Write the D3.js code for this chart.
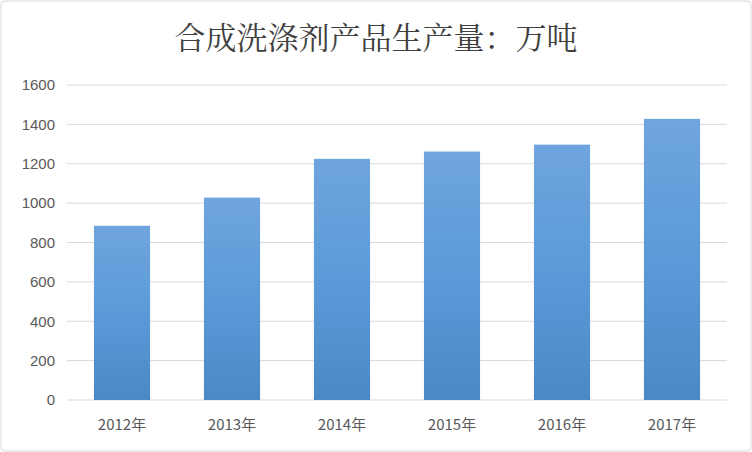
<!DOCTYPE html>
<html><head><meta charset="utf-8">
<script src="https://cdn.jsdelivr.net/npm/d3@7"></script>
<style>body{margin:0;background:#fff}</style>
</head><body>
<script>
const years = ["2012年","2013年","2014年","2015年","2016年","2017年"];
const output = [885, 1028, 1225, 1262, 1297, 1428];
const yTicks = [0,200,400,600,800,1000,1200,1400,1600];

const W = 752, H = 452;
const margin = {top: 85, right: 25, bottom: 52, left: 67};
const svg = d3.select("body").append("svg").attr("width", W).attr("height", H);

svg.append("rect").attr("x",1).attr("y",1).attr("width",W-2).attr("height",H-2)
  .attr("rx",4).attr("fill","#fff").attr("stroke","#d9d9d9");

const grad = svg.append("defs").append("linearGradient").attr("id","bg")
  .attr("x1",0).attr("y1",0).attr("x2",0).attr("y2",1);
grad.append("stop").attr("offset","0%").attr("stop-color","#6fa5de");
grad.append("stop").attr("offset","50%").attr("stop-color","#5b9ad8");
grad.append("stop").attr("offset","100%").attr("stop-color","#4a88c6");

svg.append("text").attr("x",W/2).attr("y",49).attr("text-anchor","middle")
  .attr("font-family","'Noto Serif CJK SC','Noto Sans CJK SC',serif")
  .attr("font-size",31).attr("fill","#404040").text("合成洗涤剂产品生产量：万吨");

const width = W - margin.left - margin.right, height = H - margin.top - margin.bottom;
const g = svg.append("g").attr("transform",`translate(${margin.left},${margin.top})`);
const x = d3.scaleBand().domain(years).range([0,width]).paddingInner(0.49).paddingOuter(0.245);
const y = d3.scaleLinear().domain([0,1600]).range([height,0]);

g.selectAll(".grid").data(yTicks).join("line")
  .attr("x1",0).attr("x2",width).attr("y1",d=>y(d)).attr("y2",d=>y(d))
  .attr("stroke","#d9d9d9");

g.selectAll(".bar").data(output).join("rect")
  .attr("x",(d,i)=>x(years[i])).attr("width",x.bandwidth())
  .attr("y",d=>y(d)).attr("height",d=>height-y(d)).attr("fill","url(#bg)");

g.selectAll(".yl").data(yTicks).join("text")
  .attr("x",-12).attr("y",d=>y(d)).attr("dy","0.35em").attr("text-anchor","end")
  .attr("font-family","'Liberation Sans',sans-serif").attr("font-size",15).attr("fill","#595959")
  .text(d=>d);

g.selectAll(".xl").data(years).join("text")
  .attr("x",d=>x(d)+x.bandwidth()/2).attr("y",height+30).attr("text-anchor","middle")
  .attr("font-family","'Noto Sans CJK SC',sans-serif").attr("font-size",15).attr("fill","#595959")
  .text(d=>d);
</script>
</body></html>
